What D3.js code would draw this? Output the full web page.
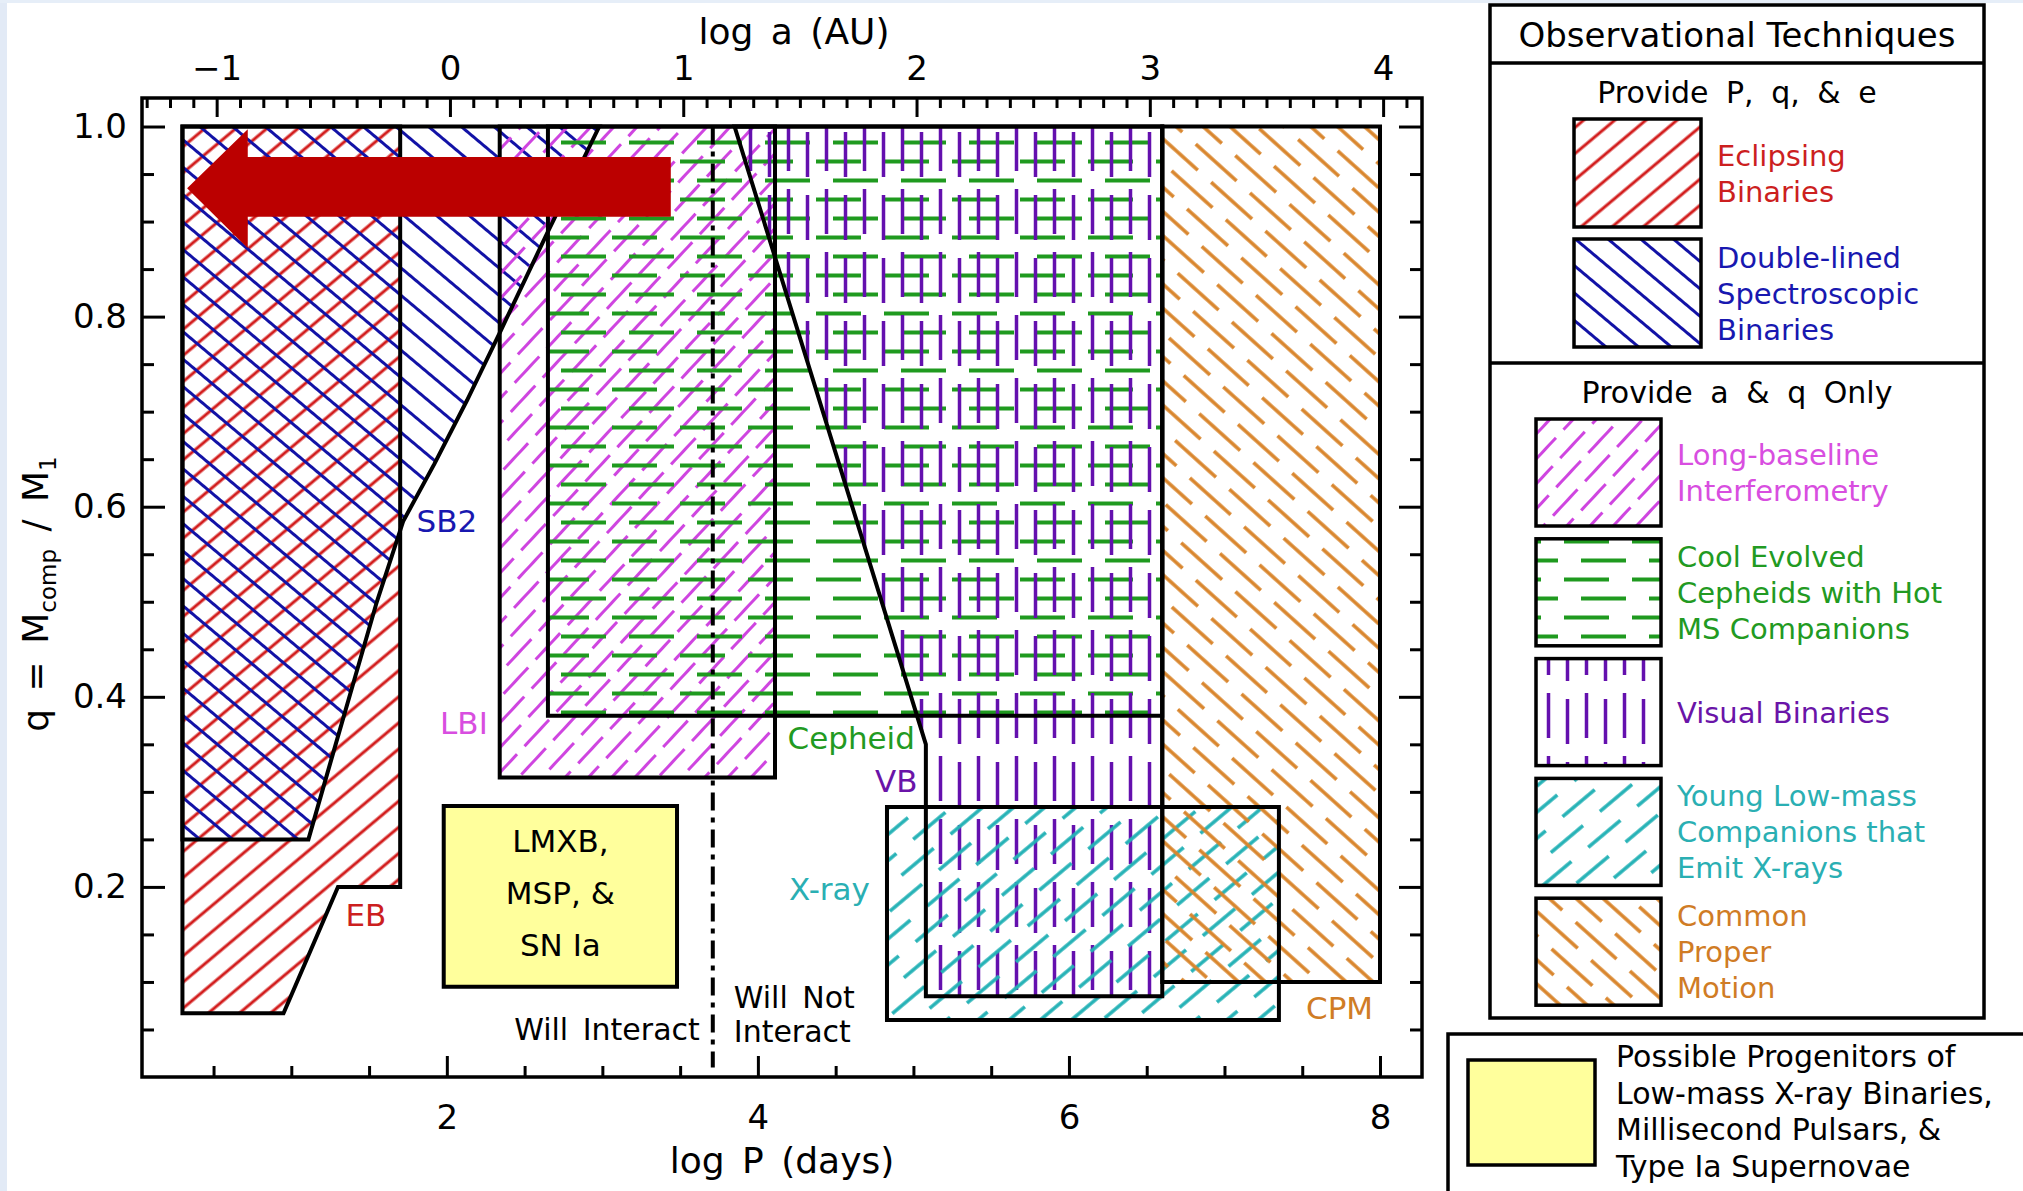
<!DOCTYPE html>
<html>
<head>
<meta charset="utf-8">
<script src="https://cdn.jsdelivr.net/npm/d3@7"></script>
<style>
  body { margin: 0; background: #fff; }
  svg { display: block; }
</style>
</head>
<body>
<div id="vis"></div>
<script>
const FRAME_WIDTH = 2023;
const FRAME_HEIGHT = 1191;
const PLOT = {left: 142, right: 1422, top: 98, bottom: 1077};
const FONT = "DejaVu Sans, sans-serif";

// axis ranges and ticks
const LOGP_RANGE = [0.04, 8.27];
const Q_RANGE = [0, 1.03];
const LOGA_ZERO = 2.02;   // log P where log a = 0 ; log a = (log P - 2.02) / 1.5
const LOGP_TICKS = [2, 4, 6, 8];
const LOGA_TICKS = [-1, 0, 1, 2, 3, 4];
const Q_TICKS = [0.2, 0.4, 0.6, 0.8, 1.0];

// regions in (log P, q)
const EB = [[0.3, 1.0], [1.7, 1.0], [1.7, 0.2], [1.3, 0.2], [0.95, 0.067], [0.3, 0.067]];
const SB2 = [[0.3, 1.0], [2.98, 1.0], [2.64, 0.886], [2.34, 0.783], [2.13, 0.712],
             [1.92, 0.645], [1.72, 0.585], [1.55, 0.50], [1.40, 0.415], [1.25, 0.33],
             [1.11, 0.25], [0.3, 0.25]];
const LBI = [[2.34, 1.0], [4.11, 1.0], [4.11, 0.315], [2.34, 0.315]];
const CEPHEID = [[2.65, 1.0], [6.6, 1.0], [6.6, 0.38], [2.65, 0.38]];
const VB = [[3.85, 1.0], [6.6, 1.0], [6.6, 0.085], [5.08, 0.085], [5.08, 0.35]];
const XRAY = [[4.83, 0.284], [7.35, 0.284], [7.35, 0.06], [4.83, 0.06]];
const CPM = [[6.6, 1.0], [8.0, 1.0], [8.0, 0.1], [6.6, 0.1]];
const LMXB = [[1.98, 0.285], [3.48, 0.285], [3.48, 0.095], [1.98, 0.095]];
const INTERACT_LOGP = 3.71;
const ARROW = [[3.44, 0.968], [0.72, 0.968], [0.72, 0.997], [0.33, 0.935],
               [0.72, 0.872], [0.72, 0.905], [3.44, 0.905]];

const REGIONS = [
  {id: "EB", pts: EB}, {id: "SB2", pts: SB2}, {id: "LBI", pts: LBI},
  {id: "CEP", pts: CEPHEID}, {id: "VB", pts: VB}, {id: "XRAY", pts: XRAY},
  {id: "CPM", pts: CPM}
];

const REGION_LABELS = [
  {id: "EB", text: "EB", logP: 1.48, q: 0.170},
  {id: "SB2", text: "SB2", logP: 2.00, q: 0.585},
  {id: "LBI", text: "LBI", logP: 2.11, q: 0.372},
  {id: "CEP", text: "Cepheid", logP: 4.60, q: 0.357},
  {id: "VB", text: "VB", logP: 4.89, q: 0.311},
  {id: "XRAY", text: "X-ray", logP: 4.46, q: 0.198},
  {id: "CPM", text: "CPM", logP: 7.74, q: 0.072}
];
const LMXB_TEXT = ["LMXB,", "MSP, &", "SN Ia"];

const LEGEND_PQE = [
  {id: "EB", lines: ["Eclipsing", "Binaries"]},
  {id: "SB2", lines: ["Double-lined", "Spectroscopic", "Binaries"]}
];
const LEGEND_AQ = [
  {id: "LBI", lines: ["Long-baseline", "Interferometry"]},
  {id: "CEP", lines: ["Cool Evolved", "Cepheids with Hot", "MS Companions"]},
  {id: "VB", lines: ["Visual Binaries"]},
  {id: "XRAY", lines: ["Young Low-mass", "Companions that", "Emit X-rays"]},
  {id: "CPM", lines: ["Common", "Proper", "Motion"]}
];
const LMXB_LEGEND = ["Possible Progenitors of", "Low-mass X-ray Binaries,",
                     "Millisecond Pulsars, &", "Type Ia Supernovae"];

// hatch styles
const STYLE = {
  EB:   {color: "#d21c1c", text: "#cc1f1f", angle: -40, spacing: 20, width: 3},
  SB2:  {color: "#1212a6", text: "#1818b0", angle: 40, spacing: 21, width: 3},
  LBI:  {color: "#cf45e0", text: "#d84ee0", angle: -47, spacing: 17, width: 3, dash: 36, gap: 11, stagger: 24},
  CEP:  {color: "#1f9a1f", text: "#229a22", angle: 0, spacing: 19, width: 4, dash: 45, gap: 23, stagger: 17},
  VB:   {color: "#6410ae", text: "#6a14a8", angle: 90, spacing: 19, width: 3.5, dash: 45, gap: 18, stagger: 6},
  XRAY: {color: "#25b2b6", text: "#2aafb3", angle: -40, spacing: 20, width: 3.5, dash: 42, gap: 22, stagger: 32},
  CPM:  {color: "#d9852c", text: "#d07c25", angle: 42, spacing: 18, width: 3.5, dash: 55, gap: 18, stagger: 36}
};

const X = d3.scaleLinear().domain(LOGP_RANGE).range([PLOT.left, PLOT.right]);
const Y = d3.scaleLinear().domain(Q_RANGE).range([PLOT.bottom, PLOT.top]);
const A = d3.scaleLinear()
  .domain(LOGP_RANGE.map(p => (p - LOGA_ZERO) / 1.5))
  .range([PLOT.left, PLOT.right]);

const SVG = d3.select("#vis").append("svg")
  .attr("width", FRAME_WIDTH).attr("height", FRAME_HEIGHT)
  .attr("font-family", FONT);

SVG.append("rect").attr("width", FRAME_WIDTH).attr("height", FRAME_HEIGHT).attr("fill", "#fff");
SVG.append("rect").attr("width", 7).attr("height", FRAME_HEIGHT).attr("fill", "#e2eaf6");
SVG.append("rect").attr("width", FRAME_WIDTH).attr("height", 3).attr("fill", "#e6eef8");

const defs = SVG.append("defs");

function makeHatch(id, s) {
  const period = s.dash ? s.dash + s.gap : 40;
  const pat = defs.append("pattern")
    .attr("id", "hatch-" + id)
    .attr("patternUnits", "userSpaceOnUse")
    .attr("width", period)
    .attr("height", s.spacing * 2)
    .attr("patternTransform", `rotate(${s.angle})`);
  [0, 1].forEach(row => {
    const yy = s.spacing * (row + 0.5);
    const off = row ? (s.stagger || 0) : 0;
    const segs = s.dash
      ? [[off, off + s.dash], [off - period, off - period + s.dash]]
      : [[-2, period + 2]];
    segs.forEach(([a, b]) => {
      pat.append("line")
        .attr("x1", a).attr("x2", b).attr("y1", yy).attr("y2", yy)
        .attr("stroke", s.color).attr("stroke-width", s.width);
    });
  });
}
Object.keys(STYLE).forEach(k => makeHatch(k, STYLE[k]));

const line = d3.line().x(d => X(d[0])).y(d => Y(d[1]));
const closed = pts => line(pts) + "Z";

// hatched fills
SVG.append("g").selectAll("path")
  .data(REGIONS)
  .enter()
  .append("path")
    .attr("d", d => closed(d.pts))
    .attr("fill", d => `url(#hatch-${d.id})`);

// LMXB box
SVG.append("path")
  .attr("d", closed(LMXB))
  .attr("fill", "#ffff9c")
  .attr("stroke", "#000").attr("stroke-width", 4);

// outlines
SVG.append("g").selectAll("path")
  .data(REGIONS)
  .enter()
  .append("path")
    .attr("d", d => closed(d.pts))
    .attr("fill", "none")
    .attr("stroke", "#000")
    .attr("stroke-width", 4);

// will / will not interact
SVG.append("line")
  .attr("x1", X(INTERACT_LOGP)).attr("x2", X(INTERACT_LOGP))
  .attr("y1", Y(1.0)).attr("y2", Y(0.01))
  .attr("stroke", "#000").attr("stroke-width", 4)
  .attr("stroke-dasharray", "18,7,5,7");

SVG.append("text")
  .attr("x", X(INTERACT_LOGP) - 13).attr("y", Y(0.0505)).attr("dy", "0.35em")
  .attr("text-anchor", "end").attr("font-size", 30).attr("word-spacing", 5)
  .text("Will Interact");
SVG.append("text")
  .attr("x", X(INTERACT_LOGP) + 21).attr("y", Y(0.084)).attr("dy", "0.35em")
  .attr("font-size", 30).attr("word-spacing", 5)
  .text("Will Not");
SVG.append("text")
  .attr("x", X(INTERACT_LOGP) + 21).attr("y", Y(0.048)).attr("dy", "0.35em")
  .attr("font-size", 30)
  .text("Interact");

// LMXB text
SVG.append("g").selectAll("text")
  .data(LMXB_TEXT)
  .enter()
  .append("text")
    .attr("x", X((LMXB[0][0] + LMXB[1][0]) / 2))
    .attr("y", (d, i) => Y(0.248) + i * 52)
    .attr("dy", "0.35em")
    .attr("text-anchor", "middle")
    .attr("font-size", 31)
    .text(d => d);

// region labels
SVG.append("g").selectAll("text")
  .data(REGION_LABELS)
  .enter()
  .append("text")
    .attr("x", d => X(d.logP))
    .attr("y", d => Y(d.q))
    .attr("dy", "0.35em")
    .attr("text-anchor", "middle")
    .attr("font-size", 31)
    .attr("fill", d => STYLE[d.id].text)
    .text(d => d.text);

// arrow
SVG.append("path")
  .attr("d", closed(ARROW))
  .attr("fill", "#bb0000");

// axes
function styleAxis(g) {
  g.select(".domain").remove();
  g.selectAll("line").attr("stroke", "#000").attr("stroke-width", 3);
  g.selectAll("text").attr("font-size", 34).attr("font-family", FONT).attr("fill", "#000");
}
const qMinor = d3.range(0.05, 1.01, 0.05).filter(v => Q_TICKS.every(t => Math.abs(t - v) > 1e-6));
const pMinor = d3.range(0.5, 8.01, 0.5).filter(v => LOGP_TICKS.indexOf(v) < 0);
const aMinor = d3.range(-1.3, 4.11, 0.1).filter(v => LOGA_TICKS.every(t => Math.abs(t - v) > 1e-6));

SVG.append("g").attr("transform", `translate(${PLOT.left},0)`)
  .call(d3.axisLeft(Y).tickValues(Q_TICKS).tickSize(-23).tickPadding(15).tickFormat(d3.format(".1f")))
  .call(styleAxis);
SVG.append("g").attr("transform", `translate(${PLOT.left},0)`)
  .call(d3.axisLeft(Y).tickValues(qMinor).tickSize(-12).tickFormat(""))
  .call(styleAxis);
SVG.append("g").attr("transform", `translate(${PLOT.right},0)`)
  .call(d3.axisRight(Y).tickValues(Q_TICKS).tickSize(-23).tickFormat(""))
  .call(styleAxis);
SVG.append("g").attr("transform", `translate(${PLOT.right},0)`)
  .call(d3.axisRight(Y).tickValues(qMinor).tickSize(-12).tickFormat(""))
  .call(styleAxis);
SVG.append("g").attr("transform", `translate(0,${PLOT.bottom})`)
  .call(d3.axisBottom(X).tickValues(LOGP_TICKS).tickSize(-21).tickPadding(28).tickFormat(d3.format("d")))
  .call(styleAxis);
SVG.append("g").attr("transform", `translate(0,${PLOT.bottom})`)
  .call(d3.axisBottom(X).tickValues(pMinor).tickSize(-11).tickFormat(""))
  .call(styleAxis);
SVG.append("g").attr("transform", `translate(0,${PLOT.top})`)
  .call(d3.axisTop(A).tickValues(LOGA_TICKS).tickSize(-19).tickPadding(18).tickFormat(d3.format("d")))
  .call(styleAxis);
SVG.append("g").attr("transform", `translate(0,${PLOT.top})`)
  .call(d3.axisTop(A).tickValues(aMinor).tickSize(-10).tickFormat(""))
  .call(styleAxis);

SVG.append("rect")
  .attr("x", PLOT.left).attr("y", PLOT.top)
  .attr("width", PLOT.right - PLOT.left).attr("height", PLOT.bottom - PLOT.top)
  .attr("fill", "none").attr("stroke", "#000").attr("stroke-width", 3.5);

// axis titles
SVG.append("text")
  .attr("x", 782).attr("y", 1173)
  .attr("text-anchor", "middle").attr("font-size", 36).attr("word-spacing", 6)
  .text("log P (days)");
SVG.append("text")
  .attr("x", 794).attr("y", 44)
  .attr("text-anchor", "middle").attr("font-size", 36).attr("word-spacing", 6)
  .text("log a (AU)");
const yTitle = SVG.append("text")
  .attr("transform", "translate(48,594) rotate(-90)")
  .attr("text-anchor", "middle").attr("font-size", 36).attr("word-spacing", 6);
yTitle.append("tspan").text("q = M");
yTitle.append("tspan").attr("dy", 8).attr("font-size", 23).text("comp");
yTitle.append("tspan").attr("dy", -8).text(" / M");
yTitle.append("tspan").attr("dy", 8).attr("font-size", 23).text("1");

// legend
const LEG = SVG.append("g");
LEG.append("rect").attr("x", 1490).attr("y", 5).attr("width", 494).attr("height", 1013)
  .attr("fill", "#fff").attr("stroke", "#000").attr("stroke-width", 3.5);
[63, 363].forEach(yy => {
  LEG.append("line").attr("x1", 1490).attr("x2", 1984).attr("y1", yy).attr("y2", yy)
    .attr("stroke", "#000").attr("stroke-width", 3.5);
});
LEG.append("text").attr("x", 1737).attr("y", 47).attr("text-anchor", "middle")
  .attr("font-size", 34).text("Observational Techniques");
LEG.append("text").attr("x", 1737).attr("y", 103).attr("text-anchor", "middle")
  .attr("font-size", 30).attr("word-spacing", 8).text("Provide P, q, & e");
LEG.append("text").attr("x", 1737).attr("y", 403).attr("text-anchor", "middle")
  .attr("font-size", 30).attr("word-spacing", 8).text("Provide a & q Only");

function legendBlock(items, x0, y0, step, w, h) {
  items.forEach((d, i) => {
    const top = y0 + i * step;
    LEG.append("rect").attr("x", x0).attr("y", top).attr("width", w).attr("height", h)
      .attr("fill", "#fff");
    LEG.append("rect").attr("x", x0).attr("y", top).attr("width", w).attr("height", h)
      .attr("fill", `url(#hatch-${d.id})`)
      .attr("stroke", "#000").attr("stroke-width", 3.5);
    const mid = top + h / 2;
    d.lines.forEach((t, j) => {
      LEG.append("text")
        .attr("x", x0 + w + 16)
        .attr("y", mid + (j - (d.lines.length - 1) / 2) * 36 + 10.5)
        .attr("font-size", 29)
        .attr("fill", STYLE[d.id].text)
        .text(t);
    });
  });
}
legendBlock(LEGEND_PQE, 1574, 119, 120, 127, 108);
legendBlock(LEGEND_AQ, 1536, 419, 119.8, 125, 107);

LEG.append("rect").attr("x", 1448).attr("y", 1034).attr("width", 600).attr("height", 200)
  .attr("fill", "#fff").attr("stroke", "#000").attr("stroke-width", 3.5);
LEG.append("rect").attr("x", 1468).attr("y", 1060).attr("width", 127).attr("height", 105)
  .attr("fill", "#ffff9c").attr("stroke", "#000").attr("stroke-width", 3.5);
LEG.selectAll("text.lmxb")
  .data(LMXB_LEGEND)
  .enter()
  .append("text")
    .attr("class", "lmxb")
    .attr("x", 1616)
    .attr("y", (d, i) => 1067 + i * 36.7)
    .attr("font-size", 30)
    .text(d => d);
</script>
</body>
</html>
